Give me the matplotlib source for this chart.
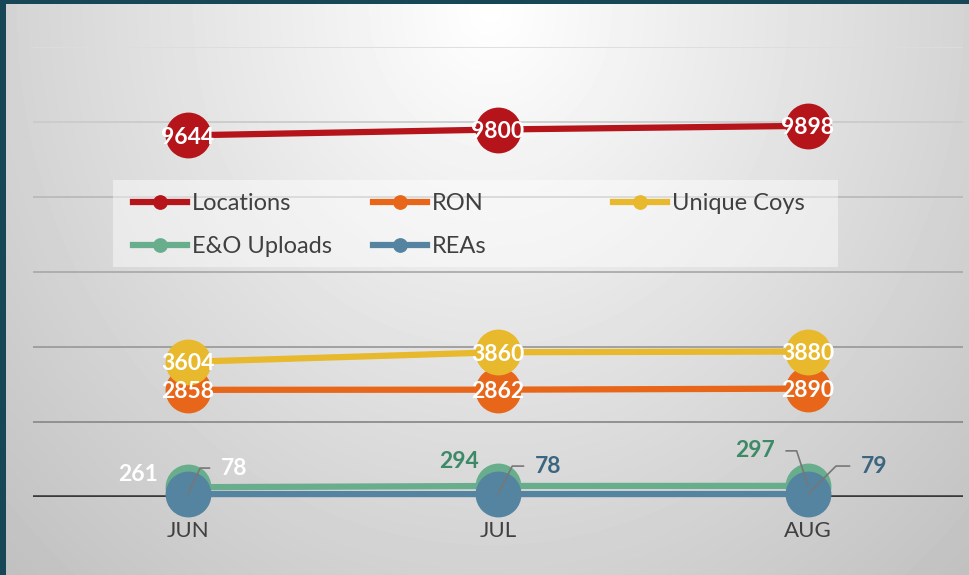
import numpy as np
import matplotlib.pyplot as plt
from matplotlib.patches import Rectangle

plt.rcParams['font.family'] = ['Lato', 'DejaVu Sans']

months = ['JUN', 'JUL', 'AUG']
locations = [9644, 9800, 9898]
ron = [2858, 2862, 2890]
unique_coys = [3604, 3860, 3880]
eo_uploads = [261, 294, 297]
reas = [78, 78, 79]

series = [
    ('Locations', locations, '#b5141b'),
    ('RON', ron, '#e8661a'),
    ('Unique Coys', unique_coys, '#e8b92c'),
    ('E&O Uploads', eo_uploads, '#68ae8c'),
    ('REAs', reas, '#5484a0'),
]

fig = plt.figure(figsize=(9.7, 5.75), dpi=100)

# radial grey background
bg = fig.add_axes([0, 0, 1, 1], zorder=0)
h, w = 575, 970
yy, xx = np.mgrid[0:h, 0:w]
d = np.sqrt(((xx - 490) / 620.0) ** 2 + ((yy - 10) / 700.0) ** 2)
img = np.clip(1.0 - 0.22 * d, 0.74, 1.0)
bg.imshow(img, cmap='gray', vmin=0, vmax=1, aspect='auto', extent=(0, 1, 0, 1))
bg.axis('off')

ax = fig.add_axes([33 / 970, 78 / 575, 930 / 970, 450 / 575], zorder=1)
ax.set_facecolor('none')
ax.set_xlim(-0.5, 2.5)
ax.set_ylim(0, 12000)
for s in ax.spines.values():
    s.set_visible(False)

grid_vals = [0, 2000, 4000, 6000, 8000, 10000, 12000]
grid_cols = ['#3a3a3a', '#8c8c8c', '#9c9c9c', '#ababab', '#bababa', '#cbcbcb', '#dddddd']
for gv, gc in zip(grid_vals, grid_cols):
    ax.axhline(gv, color=gc, lw=2.6 if gv == 0 else 1.3, zorder=0.5)

ax.set_yticks([])
x = np.arange(len(months))
ax.set_xticks(x)
ax.set_xticklabels(months, fontsize=16, color='#404040')
ax.tick_params(axis='x', length=0, pad=17)

handles = []
for name, vals, col in series:
    ln, = ax.plot(x, vals, color=col, lw=4.5, marker='o', ms=32, mec=col, mfc=col,
                  clip_on=False, zorder=4, label=name)
    handles.append(ln)

# labels inside markers for the big series
for vals in [locations, ron, unique_coys]:
    for i, v in enumerate(vals):
        ax.text(i, v, str(v), ha='center', va='center_baseline', color='white',
                fontsize=16.5, fontweight='bold', zorder=10)

# labels for the small series (offsets in pixels, leader angle or None)
eo_cols = ['white', '#3e8a68', '#3e8a68']
eo_offs = [(-50, 15), (-39, 26), (-53, 37)]
eo_lead = [None, None, 108]
rea_cols = ['white', '#3c6680', '#3c6680']
rea_offs = [(46, 28), (50, 30), (66, 30)]
rea_lead = [65, 63, 45]

for vals, cols, offs, leads, side in [(eo_uploads, eo_cols, eo_offs, eo_lead, 1),
                                       (reas, rea_cols, rea_offs, rea_lead, 0)]:
    for i, v in enumerate(vals):
        ap = None
        if leads[i] is not None:
            ap = dict(arrowstyle='-', color='#777777', lw=1.2, shrinkA=6, shrinkB=0,
                      relpos=(side, 0.5),
                      connectionstyle='angle,angleA=0,angleB=%d,rad=0' % leads[i])
        ax.annotate(str(v), xy=(i, v), xytext=offs[i], textcoords='offset pixels',
                    ha='center', va='center_baseline', color=cols[i], fontsize=16.5,
                    fontweight='bold', arrowprops=ap, zorder=10, annotation_clip=False)

# legend box
ax.add_patch(Rectangle((113 / 970, 308 / 575), 725 / 970, 87 / 575, transform=fig.transFigure,
                       facecolor='white', alpha=0.45, edgecolor='none', zorder=3))
cols_idx = [[0, 3], [1, 4], [2]]
col_x = [133, 373, 613]
legs = []
for idx, cx in zip(cols_idx, col_x):
    lg = ax.legend([handles[k] for k in idx], [series[k][0] for k in idx],
                   loc='upper left', bbox_to_anchor=(cx / 970, (575 - 193) / 575),
                   bbox_transform=fig.transFigure, frameon=False, fontsize=17,
                   markerscale=0.3, handlelength=2.3, handletextpad=0.2,
                   labelspacing=0.95, borderpad=0, borderaxespad=0)
    for t in lg.get_texts():
        t.set_color('#404040')
    legs.append(lg)
for lg in legs[:-1]:
    ax.add_artist(lg)

# dark teal frame
fig.add_artist(Rectangle((0, 0), 6 / 970, 1, transform=fig.transFigure,
                         facecolor='#174656', edgecolor='none', zorder=20))
fig.add_artist(Rectangle((0, 1 - 4 / 575), 1, 4 / 575, transform=fig.transFigure,
                         facecolor='#174656', edgecolor='none', zorder=20))

fig.savefig('out.png', dpi=100)
